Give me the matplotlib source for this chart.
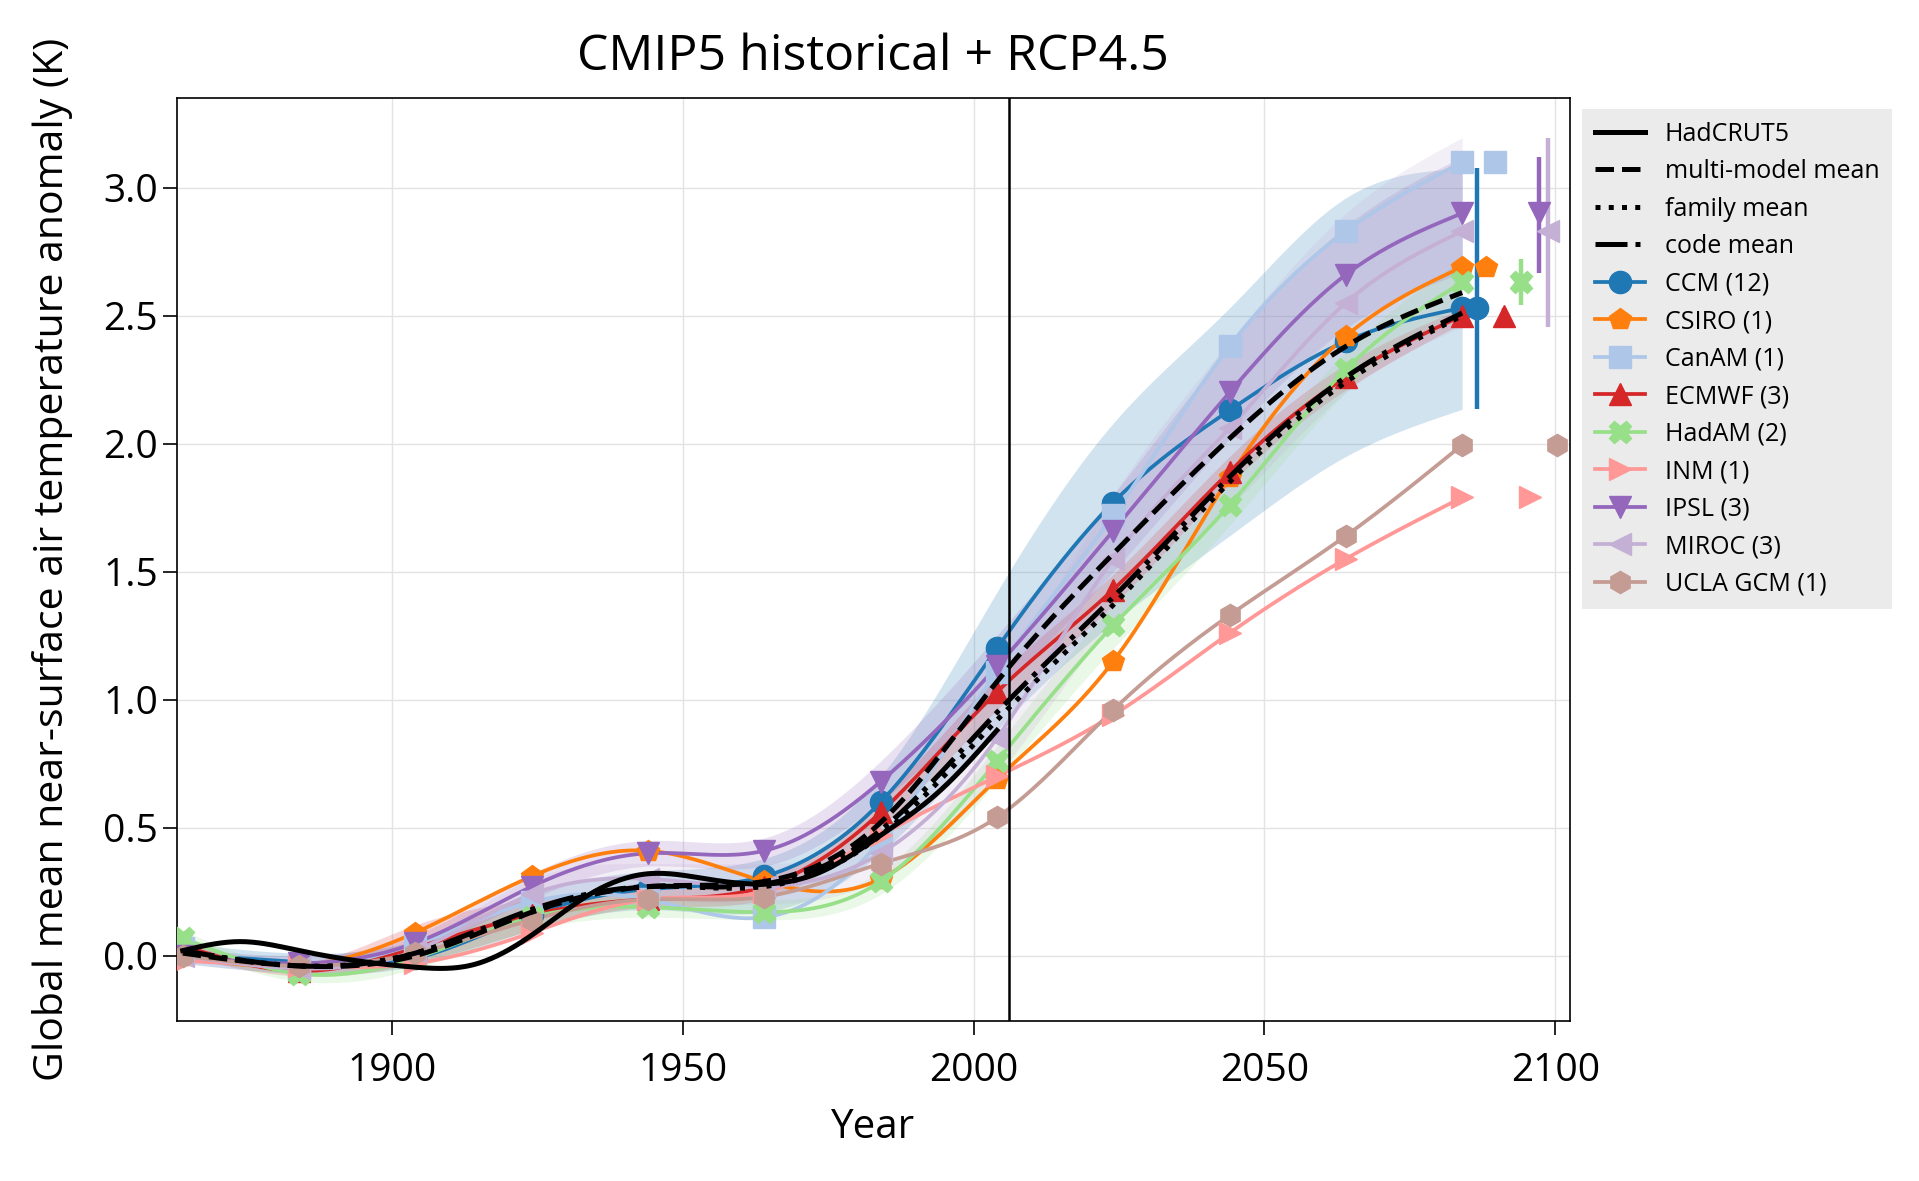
import matplotlib
matplotlib.use("Agg")
import matplotlib.pyplot as plt
from matplotlib.lines import Line2D
import numpy as np

plt.rcParams['font.family'] = ['Open Sans', 'DejaVu Sans']

# 20-year window centres used by the model families
years = [1864, 1884, 1904, 1924, 1944, 1964, 1984, 2004, 2024, 2044, 2064, 2084]

families = ['CCM (12)', 'CSIRO (1)', 'CanAM (1)', 'ECMWF (3)', 'HadAM (2)',
            'INM (1)', 'IPSL (3)', 'MIROC (3)', 'UCLA GCM (1)']
colors = ['#1f77b4', '#ff7f0e', '#aec7e8', '#d62728', '#98df8a',
          '#ff9896', '#9467bd', '#c5b0d5', '#c49c94']
markers = ['o', 'p', 's', '^', 'X', '>', 'v', '<', 'h']

ccm = [0.005, -0.025, -0.01, 0.16, 0.26, 0.31, 0.60, 1.20, 1.77, 2.13, 2.40, 2.53]
csiro = [0.0, -0.04, 0.09, 0.31, 0.41, 0.29, 0.30, 0.69, 1.15, 1.87, 2.42, 2.69]
canam = [0.03, -0.05, 0.04, 0.21, 0.22, 0.15, 0.45, 1.11, 1.72, 2.38, 2.83, 3.10]
ecmwf = [0.04, -0.06, 0.03, 0.16, 0.22, 0.27, 0.56, 1.03, 1.43, 1.89, 2.26, 2.50]
hadam = [0.07, -0.07, -0.01, 0.15, 0.19, 0.17, 0.29, 0.76, 1.29, 1.76, 2.29, 2.63]
inm = [-0.02, -0.04, -0.03, 0.09, 0.22, 0.25, 0.47, 0.70, 0.94, 1.26, 1.55, 1.79]
ipsl = [0.0, -0.03, 0.05, 0.27, 0.40, 0.41, 0.68, 1.13, 1.66, 2.20, 2.66, 2.90]
miroc = [0.0, -0.05, 0.02, 0.24, 0.30, 0.27, 0.40, 0.85, 1.55, 2.06, 2.55, 2.83]
ucla = [0.0, -0.04, 0.01, 0.14, 0.22, 0.23, 0.36, 0.54, 0.96, 1.33, 1.64, 1.995]
series = [ccm, csiro, canam, ecmwf, hadam, inm, ipsl, miroc, ucla]

# min / max over members (only families with more than one member)
ccm_lo = [-0.03, -0.07, -0.04, 0.10, 0.18, 0.17, 0.40, 0.88, 1.30, 1.64, 1.95, 2.134]
ccm_hi = [0.05, 0.01, 0.06, 0.24, 0.33, 0.38, 0.70, 1.42, 2.08, 2.53, 2.96, 3.075]
ecmwf_lo = [0.0, -0.08, -0.03, 0.10, 0.19, 0.22, 0.50, 0.96, 1.37, 1.84, 2.21, 2.47]
ecmwf_hi = [0.07, -0.03, 0.12, 0.22, 0.26, 0.31, 0.61, 1.09, 1.49, 1.95, 2.31, 2.53]
hadam_lo = [0.03, -0.10, -0.05, 0.10, 0.15, 0.14, 0.24, 0.68, 1.20, 1.68, 2.20, 2.54]
hadam_hi = [0.10, -0.05, 0.03, 0.20, 0.24, 0.22, 0.33, 0.82, 1.37, 1.84, 2.36, 2.72]
ipsl_lo = [-0.02, -0.05, 0.02, 0.22, 0.35, 0.35, 0.60, 1.02, 1.50, 2.02, 2.45, 2.667]
ipsl_hi = [0.03, 0.0, 0.08, 0.32, 0.45, 0.46, 0.76, 1.25, 1.80, 2.38, 2.85, 3.12]
miroc_lo = [-0.03, -0.07, -0.02, 0.18, 0.22, 0.20, 0.30, 0.70, 1.30, 1.75, 2.20, 2.456]
miroc_hi = [0.03, -0.02, 0.05, 0.30, 0.36, 0.36, 0.48, 1.05, 1.80, 2.40, 2.90, 3.195]
bands = {0: (ccm_lo, ccm_hi), 3: (ecmwf_lo, ecmwf_hi), 4: (hadam_lo, hadam_hi),
         6: (ipsl_lo, ipsl_hi), 7: (miroc_lo, miroc_hi)}

mm_mean = [0.01, -0.04, 0.0, 0.17, 0.27, 0.29, 0.52, 1.07, 1.57, 2.02, 2.38, 2.59]
family_mean = [0.02, -0.04, 0.01, 0.17, 0.27, 0.27, 0.47, 0.92, 1.37, 1.85, 2.24, 2.50]
code_mean = [0.02, -0.04, 0.01, 0.18, 0.27, 0.28, 0.49, 0.95, 1.40, 1.87, 2.26, 2.51]

obs_years = [1864, 1874, 1884, 1894, 1904, 1914, 1924, 1934, 1944, 1954, 1964, 1974, 1984, 1994, 2004]
hadcrut5 = [0.02, 0.055, 0.02, -0.02, -0.045, -0.035, 0.08, 0.24, 0.32, 0.30, 0.28, 0.33, 0.47, 0.64, 0.88]

# slot of each family in the end-of-century column (one slot left empty)
end_slot = [0, 1, 2, 3, 5, 6, 7, 8, 9]


def smooth(x, y, n=400):
    # natural cubic spline through the points
    x = np.asarray(x, float)
    y = np.asarray(y, float)
    h = np.diff(x)
    m = len(x)
    A = np.zeros((m, m))
    r = np.zeros(m)
    A[0, 0] = A[-1, -1] = 1
    for i in range(1, m - 1):
        A[i, i - 1] = h[i - 1]
        A[i, i] = 2 * (h[i - 1] + h[i])
        A[i, i + 1] = h[i]
        r[i] = 3 * ((y[i + 1] - y[i]) / h[i] - (y[i] - y[i - 1]) / h[i - 1])
    c = np.linalg.solve(A, r)
    b = (y[1:] - y[:-1]) / h - h * (2 * c[:-1] + c[1:]) / 3
    d = (c[1:] - c[:-1]) / (3 * h)
    xs = np.linspace(x[0], x[-1], n)
    idx = np.clip(np.searchsorted(x, xs) - 1, 0, m - 2)
    dx = xs - x[idx]
    return xs, y[idx] + b[idx] * dx + c[idx] * dx ** 2 + d[idx] * dx ** 3


MS = 16
LW = 2.7

fig = plt.figure(figsize=(19.19, 11.81), dpi=100)
ax = fig.add_axes([0.0922, 0.1355, 0.7258, 0.7815])

for i, ys in enumerate(series):
    col = colors[i]
    if i in bands:
        lo, hi = bands[i]
        xs, ylo = smooth(years, lo)
        _, yhi = smooth(years, hi)
        ax.fill_between(xs, ylo, yhi, color=col, alpha=0.2, lw=0, zorder=1)
    xs, ysm = smooth(years, ys)
    ax.plot(xs, ysm, color=col, lw=LW, zorder=2)
    ax.plot(years, ys, ls='none', marker=markers[i], ms=MS, color=col, zorder=3)
    # end-of-century value with member range
    xe = 2086.6 + 1.52 * end_slot[i]
    if i in bands:
        lo, hi = bands[i]
        ax.vlines(xe, lo[-1], hi[-1], color=col, lw=3.2, zorder=3)
    ax.plot([xe], [ys[-1]], ls='none', marker=markers[i], ms=MS, color=col, zorder=4)

xs, ysm = smooth(obs_years, hadcrut5)
ax.plot(xs, ysm, color='black', lw=3.6, ls='-', zorder=6)
xs, ysm = smooth(years, mm_mean)
ax.plot(xs, ysm, color='black', lw=3.6, ls='--', zorder=6)
xs, ysm = smooth(years, family_mean)
ax.plot(xs, ysm, color='black', lw=3.6, ls=':', zorder=6)
xs, ysm = smooth(years, code_mean)
ax.plot(xs, ysm, color='black', lw=3.6, ls='-.', zorder=6)

ax.axvline(2006, color='black', lw=1.8, zorder=7)

ax.set_xlim(1863, 2102.5)
ax.set_ylim(-0.255, 3.35)
ax.set_xticks([1900, 1950, 2000, 2050, 2100])
ax.set_yticks([0.0, 0.5, 1.0, 1.5, 2.0, 2.5, 3.0])
ax.grid(color='#e3e3e3', lw=1)
ax.set_axisbelow(True)
ax.tick_params(labelsize=28, length=10, width=1.2)
ax.tick_params(axis='x', pad=12)
for sp in ax.spines.values():
    sp.set_linewidth(1.2)
ax.set_title('CMIP5 historical + RCP4.5', fontsize=36, pad=20)
ax.set_xlabel('Year', fontsize=29, labelpad=13)
ax.set_ylabel('Global mean near-surface air temperature anomaly (K)', fontsize=29.5, labelpad=22)

handles = [
    Line2D([], [], color='black', lw=3.6, ls='-', label='HadCRUT5'),
    Line2D([], [], color='black', lw=3.6, ls='--', label='multi-model mean'),
    Line2D([], [], color='black', lw=3.6, ls=':', label='family mean'),
    Line2D([], [], color='black', lw=3.6, ls='-.', label='code mean'),
]
for i, name in enumerate(families):
    handles.append(Line2D([], [], color=colors[i], lw=LW, marker=markers[i], ms=MS, label=name))
leg = ax.legend(handles=handles, loc='upper left', bbox_to_anchor=(1.009, 0.988),
                borderaxespad=0, fontsize=18, frameon=True, fancybox=False,
                facecolor='#ebebeb', edgecolor='none', framealpha=1,
                labelspacing=0.5, handlelength=2.0, borderpad=0.5)

fig.savefig('out.png', dpi=100)
